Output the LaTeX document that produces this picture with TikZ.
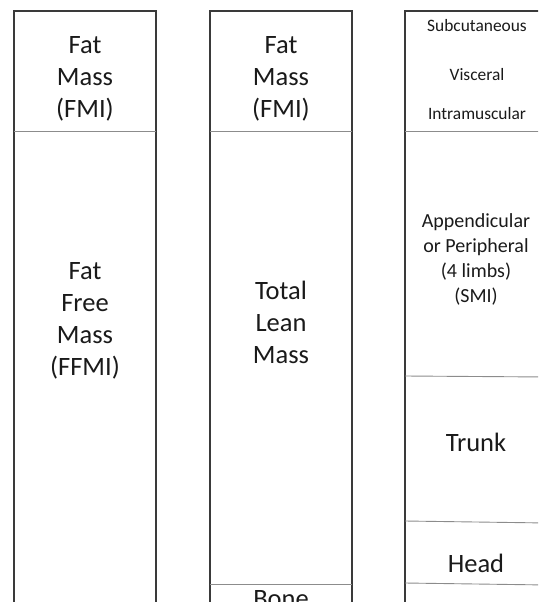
\documentclass[tikz,border=0pt]{standalone}
\usepackage{fontspec}
\setmainfont{Carlito}
\definecolor{boxline}{HTML}{3A3A3A}
\definecolor{divline}{HTML}{8C8C8C}
\definecolor{txt}{HTML}{1A1A1A}
\begin{document}
\begin{tikzpicture}[x=1pt,y=-1pt,
  colbox/.style={draw=boxline,line width=1.3pt},
  divider/.style={draw=divline,line width=0.9pt},
  bigtext/.style={text=txt,align=center,inner sep=0pt,font=\fontsize{26.5}{32}\selectfont,anchor=base},
  midtext/.style={text=txt,align=center,inner sep=0pt,font=\fontsize{20}{25}\selectfont,anchor=base},
  smalltext/.style={text=txt,align=center,inner sep=0pt,font=\fontsize{17.4}{21}\selectfont,anchor=base}]
\useasboundingbox (0,0) rectangle (538,602);
\clip (0,0) rectangle (538,602);
% column 1
\draw[colbox] (14,700) -- (14,11) -- (156,11) -- (156,700);
\draw[divider] (14,131) -- (156,131);
\node[bigtext] (fm1) at (85,117) {Fat\\Mass\\(FMI)};
\node[bigtext] (ffm) at (85,375) {Fat\\Free\\Mass\\(FFMI)};
% column 2
\draw[colbox] (210,700) -- (210,11) -- (352,11) -- (352,700);
\draw[divider] (210,131) -- (352,131);
\draw[divider] (210,584) -- (352,584);
\node[bigtext] (fm2) at (281,117) {Fat\\Mass\\(FMI)};
\node[bigtext] (tlm) at (281,363) {Total\\Lean\\Mass};
\node[bigtext] (bone) at (281,607) {Bone};
% column 3
\draw[colbox] (405,700) -- (405,11) -- (547,11) -- (547,700);
\draw[divider] (405,131) -- (547,131);
\draw[divider] (405,376) -- (547,377);
\draw[divider] (405,521) -- (547,523);
\draw[divider] (405,583) -- (547,585);
\node[smalltext] (sub) at (477,32) {Subcutaneous};
\node[smalltext] (vis) at (477,80) {Visceral};
\node[smalltext] (intra) at (477,119) {Intramuscular};
\node[midtext] (app) at (476,302) {Appendicular\\or Peripheral\\(4 limbs)\\(SMI)};
\node[bigtext] (trunk) at (476,451) {Trunk};
\node[bigtext] (head) at (476,572) {Head};
\end{tikzpicture}
\end{document}
